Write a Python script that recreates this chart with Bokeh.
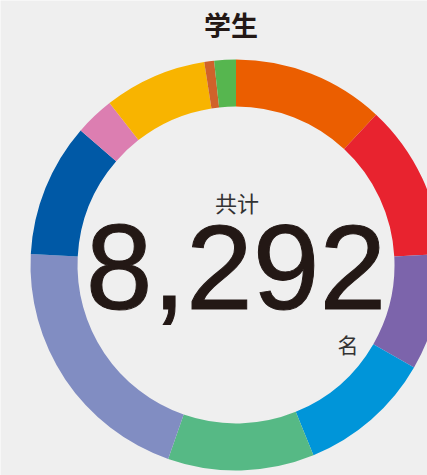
import re
from math import pi
from bokeh.plotting import figure
from bokeh.models import ColumnDataSource, Range1d
from bokeh.core.properties import value
from bokeh.embed import file_html
from bokeh.resources import INLINE

# ---- data ----
title = "学生"
total_label = "共计"
unit_label = "名"
categories = ["区分1", "区分2", "区分3", "区分4", "区分5", "区分6",
              "区分7", "区分8", "区分9", "区分10", "区分11"]
students = [990, 1013, 760, 873, 954, 1700, 871, 256, 670, 64, 141]
colors = ["#EB5E00", "#E8232F", "#7C64AB", "#0095D9", "#56B985", "#818DC2",
          "#0059A6", "#DC7EB1", "#F8B400", "#D0622A", "#56B64F"]

total = sum(students)
total_text = f"{total:,}"

# ---- geometry (pixel-like data units) ----
BG = "#EFEFEF"
W, H = 427, 475
cx, cy = 235.5, -264.5
r_out, r_in = 205.5, 158.5

# clockwise from 12 o'clock
starts, ends = [], []
acc = 0.0
for v in students:
    t0 = acc / total * 2 * pi
    acc += v
    t1 = acc / total * 2 * pi
    starts.append(pi / 2 - t1)
    ends.append(pi / 2 - t0)

src = ColumnDataSource(dict(cat=categories, value=students, color=colors,
                            start=starts, end=ends))

p = figure(width=W, height=H, output_backend="svg", toolbar_location=None,
           x_range=Range1d(0, W), y_range=Range1d(-H, 0),
           min_border=0, background_fill_color=BG, border_fill_color=BG,
           outline_line_color=None)
p.axis.visible = False
p.grid.visible = False

p.annular_wedge(x=cx, y=cy, inner_radius=r_in, outer_radius=r_out,
                start_angle="start", end_angle="end", direction="anticlock",
                fill_color="color", line_color=None, source=src)

p.text(x=[230.5], y=[-24], text=[title], text_align="center",
       text_baseline="middle", text_font=value("Noto Sans CJK SC"),
       text_font_size="27px", text_font_style="bold", text_color="#231815")
p.text(x=[236.5], y=[-201], text=[total_label], text_align="center",
       text_baseline="middle", text_font=value("Noto Sans CJK SC"),
       text_font_size="22px", text_color="#333333")
p.text(x=[235.5], y=[-266.5], text=[total_text], text_align="center",
       text_baseline="middle", text_font=value("Liberation Sans"),
       text_font_size="120px", text_color="#231815",
       text_outline_color="#231815")
p.text(x=[347.5], y=[-343], text=[unit_label], text_align="center",
       text_baseline="middle", text_font=value("Noto Sans CJK SC"),
       text_font_size="21px", text_color="#333333")

html = file_html(p, INLINE)
html = re.sub(r"<body([^>]*)>",
              r'<body\1 style="margin:0;padding:0;background-color:#EFEFEF;overflow:hidden;">',
              html, count=1)
open("out.html", "w").write(html)
